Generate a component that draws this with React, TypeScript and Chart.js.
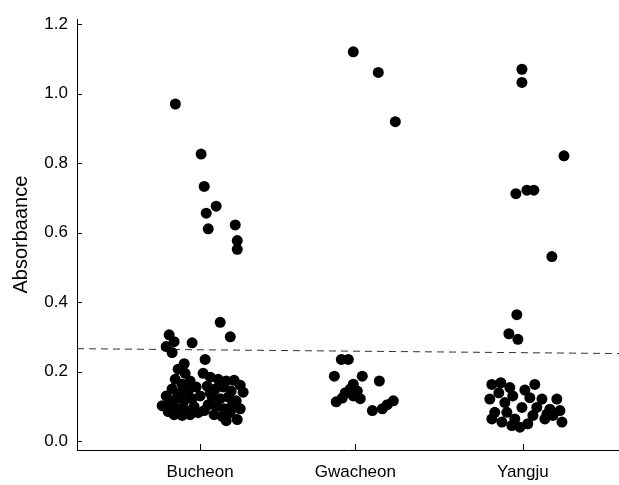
import { useEffect, useRef } from "react";
import { Chart, registerables } from "chart.js";

Chart.register(...registerables);

const categories = ["Bucheon", "Gwacheon", "Yangju"];
const categoryPositions = [1, 2, 3.08];
const yTickValues = [0, 0.2, 0.4, 0.6, 0.8, 1.0, 1.2];
const yAxisTitle = "Absorbaance";
const cutoffStart = 0.266;
const cutoffEnd = 0.252;

const bucheonJitter = [
  -0.16, 0.006, 0.026, 0.103, 0.039, 0.052, 0.226, 0.239, 0.239,
  0.129, 0.194, -0.2, -0.168, -0.052, -0.219, -0.181, 0.032, -0.103,
  -0.142, -0.097, -0.161, -0.116, -0.065, -0.181, -0.129, -0.077, -0.026, -0.155, -0.103, -0.052,
  -0.194, -0.245, -0.206, -0.142, -0.09, -0.039, -0.168, -0.116, -0.065, -0.013, -0.219, 0.0,
  0.019, 0.065, 0.116, 0.168, 0.219, 0.045, 0.097, 0.148, 0.2, 0.258, 0.277, 0.077, 0.129, 0.181,
  0.232, 0.052, 0.103, 0.155, 0.206, 0.258, 0.09, 0.142, 0.194, 0.026, 0.239, 0.168, 0.065,
];
const bucheonValues = [
  0.97, 0.826, 0.733, 0.676, 0.656, 0.611, 0.622, 0.577, 0.552,
  0.342, 0.3, 0.306, 0.286, 0.283, 0.272, 0.255, 0.235, 0.223,
  0.207, 0.195, 0.178, 0.164, 0.173, 0.15, 0.139, 0.144, 0.156, 0.122, 0.116, 0.122,
  0.107, 0.102, 0.085, 0.093, 0.088, 0.099, 0.076, 0.074, 0.076, 0.082, 0.13, 0.13,
  0.195, 0.184, 0.178, 0.173, 0.175, 0.158, 0.15, 0.156, 0.144, 0.161, 0.141, 0.127, 0.122, 0.127,
  0.116, 0.105, 0.099, 0.093, 0.102, 0.093, 0.076, 0.071, 0.082, 0.088, 0.062, 0.059, 0.139,
];

const gwacheonJitter = [
  -0.013, 0.148, 0.258, -0.09, -0.045, -0.135, 0.045, 0.155, -0.013, -0.032,
  0.013, -0.065, -0.084, -0.013, 0.032, -0.123, 0.11, 0.174, 0.206, 0.245,
];
const gwacheonValues = [
  1.12, 1.061, 0.919, 0.235, 0.235, 0.187, 0.187, 0.173, 0.164, 0.15,
  0.144, 0.139, 0.124, 0.13, 0.122, 0.113, 0.088, 0.093, 0.105, 0.116,
];

const yangjuJitter = [
  -0.006, -0.006, 0.265, -0.045, 0.026, 0.071, 0.187, -0.039, -0.09, -0.032,
  -0.2, -0.142, -0.084, -0.213, -0.155, -0.065, 0.013, 0.077, 0.045, 0.123,
  0.219, -0.116, -0.181, -0.103, -0.006, 0.09, 0.174, 0.239, -0.2, -0.135,
  -0.052, 0.032, 0.142, 0.252, 0.194, -0.019, -0.071, 0.065, 0.155,
];
const yangjuValues = [
  1.07, 1.032, 0.821, 0.712, 0.722, 0.722, 0.531, 0.364, 0.309, 0.293,
  0.163, 0.168, 0.154, 0.121, 0.139, 0.13, 0.147, 0.163, 0.125, 0.121,
  0.121, 0.111, 0.083, 0.083, 0.097, 0.097, 0.092, 0.088, 0.064, 0.055,
  0.064, 0.05, 0.064, 0.055, 0.074, 0.04, 0.045, 0.074, 0.078,
];

const X_MIN = 0.206;
const X_MAX = 3.703;

const groupJitter = [bucheonJitter, gwacheonJitter, yangjuJitter];
const groupValues = [bucheonValues, gwacheonValues, yangjuValues];

const inwardTicks = {
  id: "inwardTicks",
  afterDraw(chart: any) {
    const { ctx, scales } = chart;
    const xs = scales.x;
    const ys = scales.y;
    ctx.save();
    ctx.strokeStyle = "#000";
    ctx.lineWidth = 1;
    ctx.beginPath();
    for (const v of yTickValues) {
      const py = Math.round(ys.getPixelForValue(v)) + 0.5;
      ctx.moveTo(xs.left, py);
      ctx.lineTo(xs.left + 5, py);
    }
    for (const v of categoryPositions) {
      const px = Math.round(xs.getPixelForValue(v)) + 0.5;
      ctx.moveTo(px, ys.bottom);
      ctx.lineTo(px, ys.bottom - 6);
    }
    ctx.stroke();
    ctx.restore();
  },
};

export default function App() {
  const ref = useRef<HTMLCanvasElement | null>(null);
  useEffect(() => {
    document.body.style.margin = "0";
    if (!ref.current) return;
    const pointData = categoryPositions.flatMap((c, g) =>
      groupValues[g].map((y, i) => ({ x: c + groupJitter[g][i], y }))
    );
    const chart = new Chart(ref.current, {
      type: "scatter",
      data: {
        datasets: [
          {
            label: "samples",
            data: pointData,
            backgroundColor: "#000",
            borderWidth: 0,
            pointRadius: 5.5,
            pointHoverRadius: 5.5,
            order: 0,
          },
          {
            label: "cutoff",
            type: "line",
            data: [
              { x: X_MIN, y: cutoffStart },
              { x: X_MAX, y: cutoffEnd },
            ],
            borderColor: "#333",
            borderWidth: 1,
            borderDash: [7, 5],
            pointRadius: 0,
            showLine: true,
            order: 1,
          } as any,
        ],
      },
      options: {
        animation: false,
        responsive: false,
        devicePixelRatio: 1,
        layout: { padding: { top: 12, left: 0, right: 0, bottom: 0 } },
        plugins: { legend: { display: false }, tooltip: { enabled: false } },
        scales: {
          x: {
            type: "linear",
            min: X_MIN,
            max: X_MAX,
            grid: { display: false, drawTicks: false },
            border: { display: true, color: "#000", width: 1 },
            afterBuildTicks: (scale: any) => {
              scale.ticks = categoryPositions.map((v) => ({ value: v }));
            },
            afterFit: (scale: any) => {
              scale.height = 35;
            },
            ticks: {
              color: "#000",
              padding: 12,
              maxRotation: 0,
              autoSkip: false,
              font: { family: "'Liberation Sans', Arial, sans-serif", size: 17 },
              callback: (_v: any, i: number) => categories[i],
            },
          },
          y: {
            type: "linear",
            min: -0.0255,
            max: 1.214,
            grid: { display: false, drawTicks: false },
            border: { display: true, color: "#000", width: 1 },
            afterBuildTicks: (scale: any) => {
              scale.ticks = yTickValues.map((v) => ({ value: v }));
            },
            afterFit: (scale: any) => {
              scale.width = 77;
            },
            title: {
              display: true,
              text: yAxisTitle,
              color: "#000",
              font: { family: "'Liberation Sans', Arial, sans-serif", size: 20 },
              padding: { top: 9, bottom: 0 },
            },
            ticks: {
              color: "#000",
              padding: 9,
              font: { family: "'Liberation Sans', Arial, sans-serif", size: 17 },
              callback: (v: any) => Number(v).toFixed(1),
            },
          },
        },
      },
      plugins: [inwardTicks],
    });
    return () => chart.destroy();
  }, []);
  return (
    <div style={{ width: 619, height: 485, background: "#fff", overflow: "hidden" }}>
      <canvas ref={ref} width={625} height={485} />
    </div>
  );
}
